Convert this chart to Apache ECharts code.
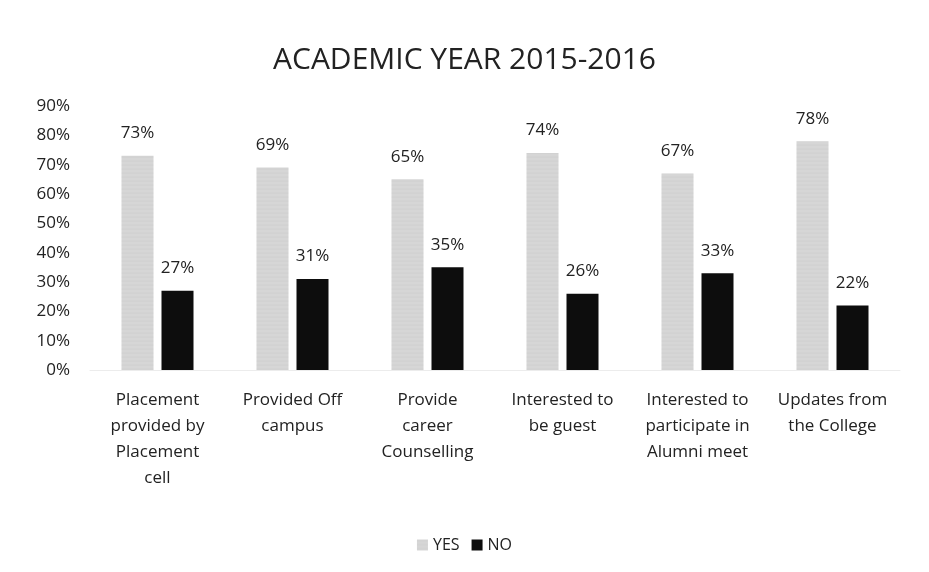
<!DOCTYPE html>
<html>
<head>
<meta charset="utf-8">
<script src="https://cdn.jsdelivr.net/npm/echarts@6/dist/echarts.min.js"></script>
<style>
  html, body { margin: 0; padding: 0; background: #fff; }
  #chart { width: 929px; height: 572px; }
</style>
</head>
<body>
<div id="chart"></div>
<script>
// categories and values
var categories = [
  'Placement\nprovided by\nPlacement\ncell',
  'Provided Off\ncampus',
  'Provide\ncareer\nCounselling',
  'Interested to\nbe guest',
  'Interested to\nparticipate in\nAlumni meet',
  'Updates from\nthe College'
];
var yesValues = [73, 69, 65, 74, 67, 78];
var noValues = [27, 31, 35, 26, 33, 22];

var chart = echarts.init(document.getElementById('chart'));
var fontName = '"Open Sans", "Liberation Sans", sans-serif';

var option = {
  animation: false,
  textStyle: { fontFamily: fontName },
  title: {
    text: 'ACADEMIC YEAR 2015-2016',
    left: 'center',
    top: 40,
    textStyle: { fontSize: 30, fontWeight: 'normal', color: '#222', fontFamily: fontName }
  },
  legend: {
    bottom: 14,
    left: 'center',
    icon: 'rect',
    itemWidth: 11,
    itemHeight: 11,
    itemGap: 12,
    textStyle: { fontSize: 16, color: '#222' },
    data: ['YES', 'NO']
  },
  grid: { left: 90, right: 29, top: 106, bottom: 202 },
  xAxis: {
    type: 'category',
    data: categories,
    axisTick: { show: false },
    axisLine: { show: true, lineStyle: { color: '#ececec' } },
    axisLabel: { fontSize: 17, color: '#222', lineHeight: 26, margin: 17, interval: 0 }
  },
  yAxis: {
    type: 'value',
    min: 0,
    max: 90,
    interval: 10,
    axisLine: { show: false },
    axisTick: { show: false },
    splitLine: { show: false },
    axisLabel: { fontSize: 17, color: '#222', formatter: '{value}%', margin: 20 }
  },
  series: [
    {
      name: 'YES',
      type: 'bar',
      data: yesValues,
      barWidth: 32,
      barGap: '25%',
      itemStyle: {
        color: '#d6d6d6',
        decal: { symbol: 'circle', symbolSize: 0.6, dashArrayX: [1, 0], dashArrayY: [2, 2], color: 'rgba(120,120,120,0.35)' }
      },
      label: { show: true, position: 'top', distance: 14, formatter: '{c}%', fontSize: 17, color: '#222' }
    },
    {
      name: 'NO',
      type: 'bar',
      data: noValues,
      barWidth: 32,
      itemStyle: { color: '#0d0d0d' },
      label: { show: true, position: 'top', distance: 14, formatter: '{c}%', fontSize: 17, color: '#222' }
    }
  ]
};
chart.setOption(option);
</script>
</body>
</html>
